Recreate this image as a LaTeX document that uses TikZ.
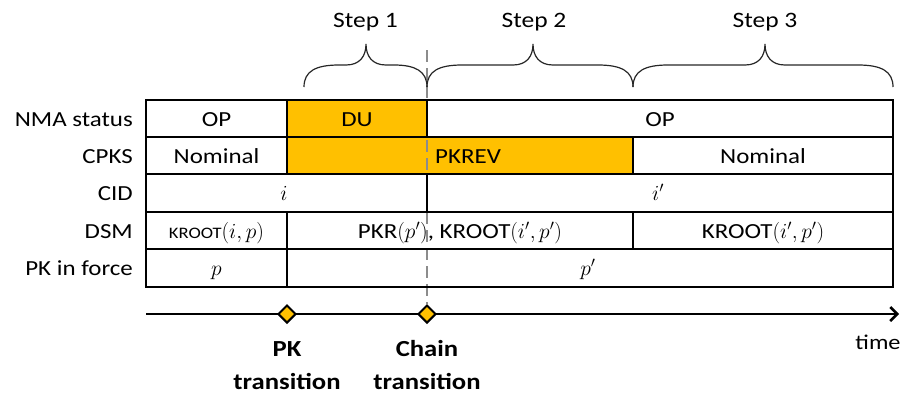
\RequirePackage{fix-cm}
\documentclass[tikz,border=0pt]{standalone}
\usepackage{fontspec}
\setmainfont{Carlito}[FakeStretch=1.16]
\usetikzlibrary{shapes.geometric,arrows.meta}
\definecolor{gold}{RGB}{255,192,0}
\definecolor{dashgrey}{RGB}{140,140,140}
\begin{document}
\begin{tikzpicture}[x=1pt,y=-1pt,
  txt/.style={font=\fontsize{21.5}{24}\selectfont, inner sep=0pt, anchor=base},
  rowlabel/.style={font=\fontsize{21.5}{24}\selectfont, inner sep=0pt, anchor=base east},
  border/.style={line width=2.5pt},
  curly/.style={line width=1.2pt, black!85},
  steplabel/.style={font=\fontsize{22}{24}\selectfont, anchor=base, inner sep=0pt},
  marker/.style={diamond, draw=black, fill=gold, line width=2pt, minimum size=18pt, inner sep=0pt},
  translabel/.style={font=\bfseries\fontsize{23}{34}\selectfont, align=center, anchor=base, inner sep=0pt},
  timelabel/.style={font=\fontsize{21}{24}\selectfont, anchor=base, inner sep=0pt},
  guide/.style={dashgrey, line width=2.5pt, dash pattern=on 12pt off 6pt},
  axis/.style={line width=2.5pt, -{Straight Barb[length=7pt,width=14pt]}}
]
\useasboundingbox (0,0) rectangle (904,397);
% fills
\fill[gold] (287,100) rectangle (427,137);
\fill[gold] (287,137) rectangle (633,174);
% timeline and markers
\coordinate (tstart) at (146,314);
\coordinate (tend) at (899,314);
\draw[axis] (tstart) -- (tend);
\node[marker] (pkt) at (287,314) {};
\node[marker] (cht) at (427,314) {};
% dashed guide
\coordinate (dtop) at (427,50);
\draw[guide] (dtop) -- (cht.north);
% table borders
\draw[border] (146,100) rectangle (893,287);
\foreach \yy in {137,174,212,249} \draw[border] (146,\yy) -- (893,\yy);
\draw[border] (287,100) -- (287,137);
\draw[border] (427,100) -- (427,137);
\draw[border] (287,137) -- (287,174);
\draw[border] (633,137) -- (633,174);
\draw[border] (427,174) -- (427,212);
\draw[border] (287,212) -- (287,249);
\draw[border] (633,212) -- (633,249);
\draw[border] (287,249) -- (287,287);
% row labels
\node[rowlabel] (lnma) at (133,126) {NMA status};
\node[rowlabel] (lcpks) at (133,163) {CPKS};
\node[rowlabel] (lcid) at (133,200.5) {CID};
\node[rowlabel] (ldsm) at (133,238) {DSM};
\node[rowlabel] (lpk) at (133,275.5) {PK in force};
% cells
\node[txt] (c11) at (216.5,126) {OP};
\node[txt] (c12) at (357,126) {DU};
\node[txt] (c13) at (660,126) {OP};
\node[txt] (c21) at (216.5,163) {Nominal};
\node[txt, anchor=base west] (c22) at (435,163) {PKREV};
\node[txt] (c23) at (763,163) {Nominal};
\node[txt] (c31) at (284,200.5) {$i$};
\node[txt] (c32) at (658,200.5) {$i'$};
\node[txt] (c41) at (216.5,238) {{\fontsize{16}{18}\selectfont KROOT}$(i,p)$};
\node[txt] (c42) at (460,238) {PKR$(p')$, KROOT$(i',p')$};
\node[txt] (c43) at (763,238) {KROOT$(i',p')$};
\node[txt] (c51) at (216.5,275.5) {$p$};
\node[txt] (c52) at (588,275.5) {$p'$};
% braces
\draw[curly] (304,87) .. controls (304,71) and (316,65) .. (339,65)
    -- (346,65) .. controls (360,65) and (366,56) .. (366,44)
    .. controls (366,56) and (372,65) .. (386,65)
    -- (394,65) .. controls (415,65) and (427,71) .. (427,87);
\draw[curly] (427,87) .. controls (427,71) and (439,65) .. (462,65)
    -- (513,65) .. controls (527,65) and (533,56) .. (533,44)
    .. controls (533,56) and (539,65) .. (553,65)
    -- (598,65) .. controls (621,65) and (633,71) .. (633,87);
\draw[curly] (633,87) .. controls (633,71) and (645,65) .. (668,65)
    -- (745,65) .. controls (759,65) and (765,56) .. (765,44)
    .. controls (765,56) and (771,65) .. (785,65)
    -- (858,65) .. controls (881,65) and (893,71) .. (893,87);
\node[steplabel] (s1) at (365.5,27) {Step 1};
\node[steplabel] (s2) at (534,27) {Step 2};
\node[steplabel] (s3) at (765,27) {Step 3};
% transition labels
\node[translabel] (lpkt1) at (287,356) {PK};
\node[translabel] (lpkt2) at (287,389) {transition};
\node[translabel] (lcht1) at (427,356) {Chain};
\node[translabel] (lcht2) at (427,389) {transition};
\node[timelabel] (ltime) at (878,349) {time};
\end{tikzpicture}
\end{document}
